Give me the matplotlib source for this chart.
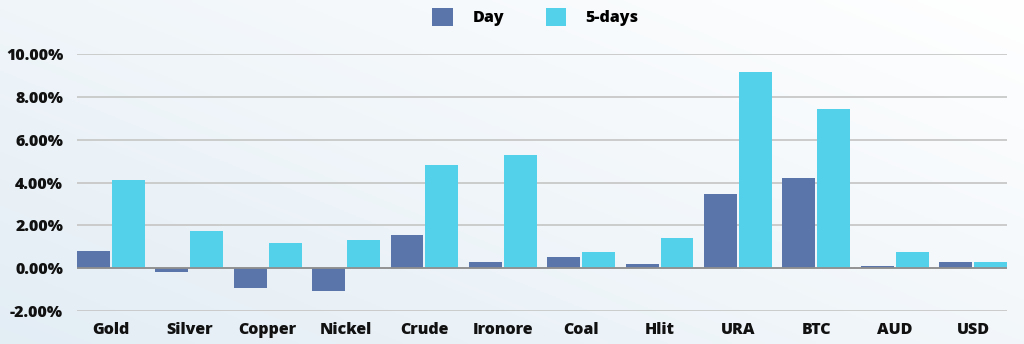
import numpy as np
import matplotlib.pyplot as plt
from matplotlib.ticker import FuncFormatter

font = {'family': 'Open Sans', 'weight': 'bold'}

categories = ['Gold', 'Silver', 'Copper', 'Nickel', 'Crude', 'Ironore',
              'Coal', 'Hlit', 'URA', 'BTC', 'AUD', 'USD']
day = [0.80, -0.20, -0.92, -1.07, 1.53, 0.29, 0.53, 0.19, 3.46, 4.22, 0.11, 0.29]
five_days = [4.11, 1.73, 1.18, 1.31, 4.81, 5.28, 0.76, 1.43, 9.17, 7.44, 0.76, 0.29]
y_ticks = [-2, 0, 2, 4, 6, 8, 10]

day_color = '#5a75aa'
five_color = '#53d0ea'


def plt_data():
    fig = plt.figure(figsize=(10.24, 3.44), dpi=100)

    # soft gradient behind everything
    bg = fig.add_axes([0, 0, 1, 1], zorder=-10)
    gx = np.linspace(0, 1, 256)
    gy = np.linspace(0, 1, 128)
    X, Y = np.meshgrid(gx, gy)
    t = np.clip(0.55 * X + 0.45 * (1 - Y), 0, 1)
    c0 = np.array([0.89, 0.93, 0.96])
    c1 = np.array([1.0, 1.0, 1.0])
    img = c0[None, None, :] * (1 - t[..., None]) + c1[None, None, :] * t[..., None]
    bg.imshow(img, aspect='auto', extent=[0, 1, 0, 1], origin='upper')
    bg.axis('off')

    ax = fig.add_axes([0.0752, 0.0959, 0.9082, 0.7471])
    ax.patch.set_alpha(0)

    x = np.arange(len(categories))
    w = 0.42
    off = 0.2225
    ax.bar(x - off, day, w, color=day_color, label='Day', zorder=3)
    ax.bar(x + off, five_days, w, color=five_color, label='5-days', zorder=3)

    ax.set_xlim(-0.4325, len(categories) - 1 + 0.4325)
    ax.set_ylim(-2, 10)
    ax.set_yticks(y_ticks)
    ax.yaxis.set_major_formatter(FuncFormatter(lambda v, p: '%.2f%%' % v))
    ax.grid(True, axis='y', color='#c8c8c8', linewidth=1.3, zorder=0)
    ax.axhline(0, color='#8f8f8f', linewidth=1.3, zorder=4)

    ax.set_xticks(x)
    ax.set_xticklabels(categories)
    for s in ax.spines.values():
        s.set_visible(False)
    ax.tick_params(length=0)
    ax.tick_params(axis='y', pad=10)
    ax.tick_params(axis='x', pad=8)
    for lab in ax.get_xticklabels() + ax.get_yticklabels():
        lab.set_fontfamily(font['family'])
        lab.set_fontweight('heavy')
        lab.set_fontsize(11.5)
        lab.set_color('#111111')

    leg = fig.legend(loc='center', bbox_to_anchor=(0.523, 0.95), ncol=2,
                     frameon=False, handlelength=1.3, handleheight=1.3,
                     columnspacing=2.6, handletextpad=1.2,
                     prop={'family': font['family'], 'weight': 'heavy', 'size': 11.5})

    plt.savefig('out.png', dpi=100)


def main():
    plt_data()


if __name__ == '__main__':
    main()
